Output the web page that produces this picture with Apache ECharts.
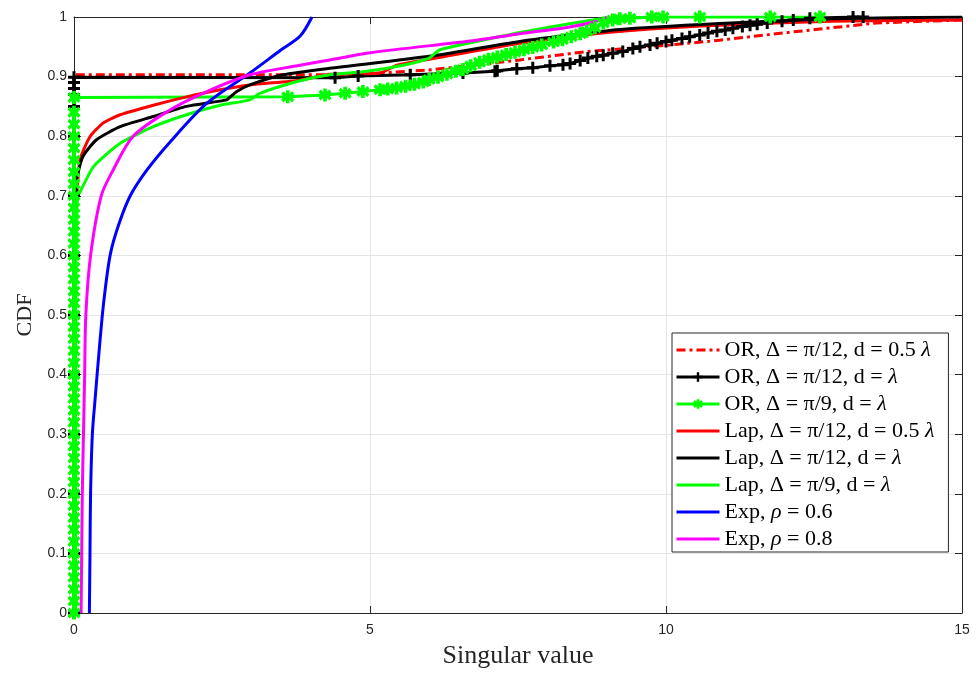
<!DOCTYPE html>
<html>
<head>
<meta charset="utf-8">
<script src="https://cdn.jsdelivr.net/npm/echarts@6/dist/echarts.min.js"></script>
<style>html,body{margin:0;padding:0;background:#fff;}#c{width:976px;height:673px;}</style>
</head>
<body>
<div id="c"></div>
<script>
// ---- data ----
const xTicks = [0, 5, 10, 15];
const yTicks = [0, 0.1, 0.2, 0.3, 0.4, 0.5, 0.6, 0.7, 0.8, 0.9, 1];

const orRedX = [0, 0, 2, 4.32, 5.0, 6.0, 7.0, 7.53, 8.66, 10.07, 10.9, 12.15, 13.56, 15];
const orRedY = [0, 0.903, 0.903, 0.903, 0.905, 0.911, 0.922, 0.928, 0.942, 0.953, 0.961, 0.975, 0.99, 0.995];

const orBlackX = [0, 0, 0, 0, 0, 0, 0, 0, 0, 0, 0, 0, 0, 0, 4.41, 4.8, 5.68, 6.57, 7.11, 7.15, 7.48, 7.75, 8.04, 8.26, 8.38, 8.55, 8.68, 8.83, 8.94, 9.1, 9.27, 9.44, 9.56, 9.73, 9.85, 10.0, 10.1, 10.27, 10.4, 10.57, 10.71, 10.86, 11.0, 11.13, 11.29, 11.42, 11.54, 11.71, 11.96, 12.15, 12.43, 13.16, 13.33];
const orBlackY = [0, 0.1, 0.2, 0.3, 0.4, 0.5, 0.6, 0.7, 0.8, 0.85, 0.87, 0.88, 0.89, 0.899, 0.898, 0.901, 0.903, 0.906, 0.909, 0.91, 0.913, 0.915, 0.918, 0.92, 0.922, 0.927, 0.931, 0.934, 0.936, 0.939, 0.942, 0.947, 0.95, 0.953, 0.956, 0.959, 0.961, 0.964, 0.967, 0.97, 0.973, 0.976, 0.978, 0.981, 0.984, 0.986, 0.988, 0.99, 0.993, 0.995, 0.998, 1.0, 1.0];

const orGreenX = [0, 0, 0, 0, 0, 0, 0, 0, 0, 0, 0, 0, 0, 0, 0, 0, 0, 0, 0, 0, 0, 0, 0, 0, 0, 0, 0, 0, 0, 0, 0, 0, 0, 0, 0, 0, 0, 0, 0, 0, 0, 0, 0, 0, 3.61, 4.24, 4.58, 4.88, 5.17, 5.3, 5.45, 5.6, 5.75, 5.9, 6.0, 6.15, 6.3, 6.45, 6.57, 6.7, 6.85, 7.0, 7.15, 7.3, 7.45, 7.6, 7.75, 7.9, 8.1, 8.25, 8.4, 8.55, 8.66, 8.8, 8.94, 9.1, 9.22, 9.39, 9.76, 9.95, 10.57, 11.76, 12.6];
const orGreenY = [0, 0.02, 0.04, 0.06, 0.08, 0.1, 0.12, 0.14, 0.16, 0.18, 0.2, 0.22, 0.24, 0.26, 0.28, 0.3, 0.32, 0.34, 0.36, 0.38, 0.4, 0.42, 0.44, 0.46, 0.48, 0.5, 0.52, 0.54, 0.56, 0.58, 0.6, 0.62, 0.64, 0.66, 0.68, 0.7, 0.72, 0.74, 0.76, 0.78, 0.8, 0.82, 0.84, 0.865, 0.866, 0.869, 0.872, 0.875, 0.878, 0.879, 0.881, 0.884, 0.887, 0.891, 0.895, 0.899, 0.904, 0.909, 0.912, 0.918, 0.924, 0.929, 0.933, 0.937, 0.941, 0.945, 0.949, 0.953, 0.958, 0.962, 0.967, 0.972, 0.976, 0.982, 0.99, 0.995, 0.997, 0.998, 1.0, 1.0, 1.0, 1.0, 1.0];

const lapRedX = [0.02, 0.02, 0.03, 0.05, 0.1, 0.27, 0.49, 0.78, 1.34, 1.9, 2.47, 2.97, 3.82, 4.32, 5.17, 5.45, 6.0, 7.53, 9.0, 10.6, 12.8, 15];
const lapRedY = [0, 0.5, 0.65, 0.7, 0.76, 0.799, 0.822, 0.836, 0.852, 0.866, 0.878, 0.886, 0.894, 0.904, 0.906, 0.919, 0.929, 0.956, 0.974, 0.985, 0.993, 0.995];

const lapBlackX = [0.02, 0.02, 0.03, 0.045, 0.15, 0.38, 0.78, 1.34, 1.9, 2.58, 2.64, 2.75, 2.97, 3.53, 4.32, 6.0, 7.53, 9.22, 10.9, 12.8, 15];
const lapBlackY = [0, 0.5, 0.65, 0.727, 0.766, 0.794, 0.816, 0.833, 0.85, 0.861, 0.866, 0.875, 0.886, 0.903, 0.914, 0.934, 0.959, 0.979, 0.989, 0.997, 1.0];

const lapGreenX = [0.03, 0.03, 0.04, 0.06, 0.1, 0.33, 0.78, 1.34, 1.9, 2.47, 2.97, 3.14, 3.82, 4.32, 4.95, 5.6, 6.0, 6.18, 6.9, 7.7, 8.94, 10.0];
const lapGreenY = [0, 0.5, 0.65, 0.7, 0.706, 0.749, 0.788, 0.816, 0.836, 0.852, 0.861, 0.872, 0.893, 0.903, 0.909, 0.92, 0.931, 0.945, 0.961, 0.977, 0.997, 1.0];

const expBlueX = [0.26, 0.27, 0.28, 0.31, 0.355, 0.43, 0.5, 0.61, 0.75, 0.95, 1.23, 1.62, 2.24, 2.97, 3.5, 3.82, 4.02];
const expBlueY = [0, 0.1, 0.2, 0.3, 0.357, 0.446, 0.52, 0.6, 0.65, 0.7, 0.743, 0.79, 0.855, 0.906, 0.945, 0.968, 1.0];

const expMagX = [0.12, 0.13, 0.14, 0.16, 0.18, 0.2, 0.28, 0.46, 0.66, 1.0, 1.62, 2.18, 2.97, 3.82, 4.32, 5.0, 6.8, 7.53, 8.3, 8.8, 9.0];
const expMagY = [0, 0.1, 0.2, 0.3, 0.4, 0.5, 0.6, 0.7, 0.743, 0.8, 0.844, 0.872, 0.903, 0.919, 0.928, 0.94, 0.961, 0.972, 0.982, 0.992, 1.0];

const names = [
  'OR, Δ = π/12, d = 0.5 λ',
  'OR, Δ = π/12, d = λ',
  'OR, Δ = π/9, d = λ',
  'Lap, Δ = π/12, d = 0.5 λ',
  'Lap, Δ = π/12, d = λ',
  'Lap, Δ = π/9, d = λ',
  'Exp, ρ = 0.6',
  'Exp, ρ = 0.8'
];

// ---- build ----
const zip = (xs, ys) => xs.map((v, i) => [v, ys[i]]);
const plusPath = 'path://M4.5,0H7.5V4.5H12V7.5H7.5V12H4.5V7.5H0V4.5H4.5Z';
const starPath = 'path://M4.2,0H7.8V3.2L10.4,0.9L12.4,3.3L9.6,6L12.4,8.7L10.4,11.1L7.8,8.8V12H4.2V8.8L1.6,11.1L-0.4,8.7L2.4,6L-0.4,3.3L1.6,0.9L4.2,3.2Z';

function lineSeries(name, data, color, extra) {
  return Object.assign({
    name: name,
    type: 'line',
    data: data,
    showSymbol: false,
    symbol: 'circle',
    smooth: 0.2,
    lineStyle: { color: color, width: 3 },
    itemStyle: { color: color },
    animation: false,
    z: 3
  }, extra || {});
}

const series = [
  lineSeries(names[0], zip(orRedX, orRedY), '#ff0000', { smooth: false, lineStyle: { color: '#ff0000', width: 3, type: [9, 4, 3, 4] } }),
  lineSeries(names[1], zip(orBlackX, orBlackY), '#000000', {
    smooth: false, showSymbol: true, showAllSymbol: true, symbol: plusPath, symbolSize: 12,
    itemStyle: { color: '#000000', borderWidth: 0 }
  }),
  lineSeries(names[2], zip(orGreenX, orGreenY), '#00ff00', {
    smooth: false, showSymbol: true, showAllSymbol: true, symbol: starPath, symbolSize: 13,
    itemStyle: { color: '#00ff00', borderWidth: 0 }
  }),
  lineSeries(names[3], zip(lapRedX, lapRedY), '#ff0000'),
  lineSeries(names[4], zip(lapBlackX, lapBlackY), '#000000'),
  lineSeries(names[5], zip(lapGreenX, lapGreenY), '#00ff00'),
  lineSeries(names[6], zip(expBlueX, expBlueY), '#0000ff', { smooth: 0.3 }),
  lineSeries(names[7], zip(expMagX, expMagY), '#ff00ff', { smooth: 0.3 })
];

const noSym = { itemStyle: { opacity: 0 } };
const legendData = names.map((n, i) => (i === 1 || i === 2) ? { name: n } : Object.assign({ name: n }, noSym));

const axisColor = '#262626';
const tickFont = { fontFamily: 'Liberation Sans', fontSize: 14, color: axisColor };

const chart = echarts.init(document.getElementById('c'), null, { renderer: 'canvas' });
chart.setOption({
  backgroundColor: '#ffffff',
  animation: false,
  grid: { left: 74, right: 14, top: 17, bottom: 60, containLabel: false, outerBoundsMode: 'none' },
  xAxis: [{
    type: 'value', min: xTicks[0], max: xTicks[xTicks.length - 1], interval: 5,
    name: 'Singular value', nameLocation: 'middle', nameGap: 30,
    nameTextStyle: { fontFamily: 'Liberation Serif', fontSize: 26, color: axisColor },
    axisLine: { show: true, onZero: false, lineStyle: { color: axisColor, width: 1 } },
    axisTick: { show: true, inside: true, length: 7, lineStyle: { color: axisColor } },
    axisLabel: Object.assign({ margin: 10 }, tickFont),
    splitLine: { show: true, lineStyle: { color: '#e5e5e5', width: 1 } }
  }, {
    type: 'value', position: 'top', min: 0, max: 15, interval: 5,
    axisLine: { show: true, onZero: false, lineStyle: { color: axisColor, width: 1 } },
    axisTick: { show: true, inside: true, length: 7, lineStyle: { color: axisColor } },
    axisLabel: { show: false }, splitLine: { show: false }
  }],
  yAxis: [{
    type: 'value', min: 0, max: 1, interval: 0.1,
    name: 'CDF', nameLocation: 'middle', nameGap: 38, nameRotate: 90,
    nameTextStyle: { fontFamily: 'Liberation Serif', fontSize: 22, color: axisColor },
    axisLine: { show: true, onZero: false, lineStyle: { color: axisColor, width: 1 } },
    axisTick: { show: true, inside: true, length: 7, lineStyle: { color: axisColor } },
    axisLabel: Object.assign({ margin: 7, formatter: v => String(Math.round(v * 10) / 10) }, tickFont),
    splitLine: { show: true, lineStyle: { color: '#e5e5e5', width: 1 } }
  }, {
    type: 'value', position: 'right', min: 0, max: 1, interval: 0.1,
    axisLine: { show: true, onZero: false, lineStyle: { color: axisColor, width: 1 } },
    axisTick: { show: true, inside: true, length: 7, lineStyle: { color: axisColor } },
    axisLabel: { show: false }, splitLine: { show: false }
  }],
  legend: {
    data: legendData,
    orient: 'vertical',
    left: 672, top: 333,
    backgroundColor: '#ffffff',
    borderColor: axisColor, borderWidth: 1, borderRadius: 0,
    padding: [6, 14, 2, 3],
    itemWidth: 43, itemHeight: 12, itemGap: 5,
    lineStyle: { width: 3 },
    formatter: function (n) {
      return n.replace(/ λ$/, ' {i|λ}').replace('ρ', '{i|ρ}');
    },
    textStyle: {
      fontFamily: 'Liberation Serif', fontSize: 22, color: '#000', lineHeight: 22,
      rich: { i: { fontFamily: 'Liberation Serif', fontStyle: 'italic', fontSize: 22, color: '#000', lineHeight: 22 } }
    }
  },
  series: series
});
</script>
</body>
</html>
